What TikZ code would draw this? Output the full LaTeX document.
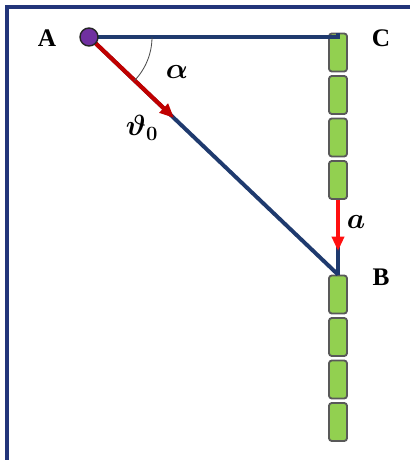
\documentclass[tikz,border=0pt]{standalone}
\usepackage{fontspec}
\setmainfont{Liberation Serif}
\usepackage{bm}
\usetikzlibrary{arrows.meta}
\definecolor{RopeBlue}{HTML}{1F3A6E}
\definecolor{FrameBlue}{HTML}{22357A}
\definecolor{BallPurple}{HTML}{7030A0}
\definecolor{BlockGreen}{HTML}{92D050}
\definecolor{VelRed}{HTML}{C00000}
\definecolor{AccRed}{HTML}{FF1010}

\begin{document}
\begin{tikzpicture}[
            x=0.025cm, y=-0.025cm,
            block/.style={rectangle, draw=gray!70!black, fill=BlockGreen, line width=1.3pt, rounded corners=2pt, minimum width=0.45cm, minimum height=0.95cm, inner sep=0pt},
            ball/.style={circle, draw=black!85, fill=BallPurple, line width=1pt, minimum size=0.45cm, inner sep=0pt},
            rope/.style={line width=2.8pt, color=RopeBlue},
            frame/.style={line width=2.2pt, color=FrameBlue},
            velarrow/.style={-{Triangle[length=0.36cm, width=0.3cm]}, line width=3pt, color=VelRed},
            accarrow/.style={-{Triangle[length=0.36cm, width=0.3cm]}, line width=3pt, color=AccRed},
            lbl/.style={font=\fontsize{18}{20}\selectfont\bfseries, inner sep=0pt},
            mlbl/.style={font=\fontsize{20}{22}\selectfont, inner sep=0pt}
        ]
            \useasboundingbox (0,0) rectangle (410,460);
            \draw[frame] (7,460) -- (7,7) -- (410,7);

            \coordinate (C) at (338,37);
            \coordinate (vTip) at (174,118);
            \coordinate (aTip) at (338,251);

            \foreach \i/\y in {1/52.5, 2/95, 3/137.5, 4/180, 5/294.5, 6/337, 7/379.5, 8/422}
                \node[block] (blk\i) at (338,\y) {};

            \coordinate (B) at (blk5.north);

            \draw[rope] (89,37) -- (C) -- (blk1.north);
            \draw[rope] (89,37) -- (B);
            \draw[rope] (blk4.south) -- (B);
            \draw[velarrow] (89,37) -- (vTip);
            \draw[accarrow] (blk4.south) -- (aTip);
            \node[ball] (ball) at (89,37) {};
            \draw[line width=0.6pt, black!70] (ball.center) ++(0:63) arc[start angle=0, end angle=43.7, radius=63];

            \node[lbl] (labA) at (47,38) {A};
            \node[lbl] (labC) at (381,38) {C};
            \node[lbl] (labB) at (381,277) {B};
            \node[mlbl] (alpha) at (177,72) {$\bm{\alpha}$};
            \node[mlbl] (theta) at (142,128) {$\bm{\vartheta_0}$};
            \node[mlbl] (acc) at (356,222) {$\bm{a}$};
        \end{tikzpicture}
\end{document}
